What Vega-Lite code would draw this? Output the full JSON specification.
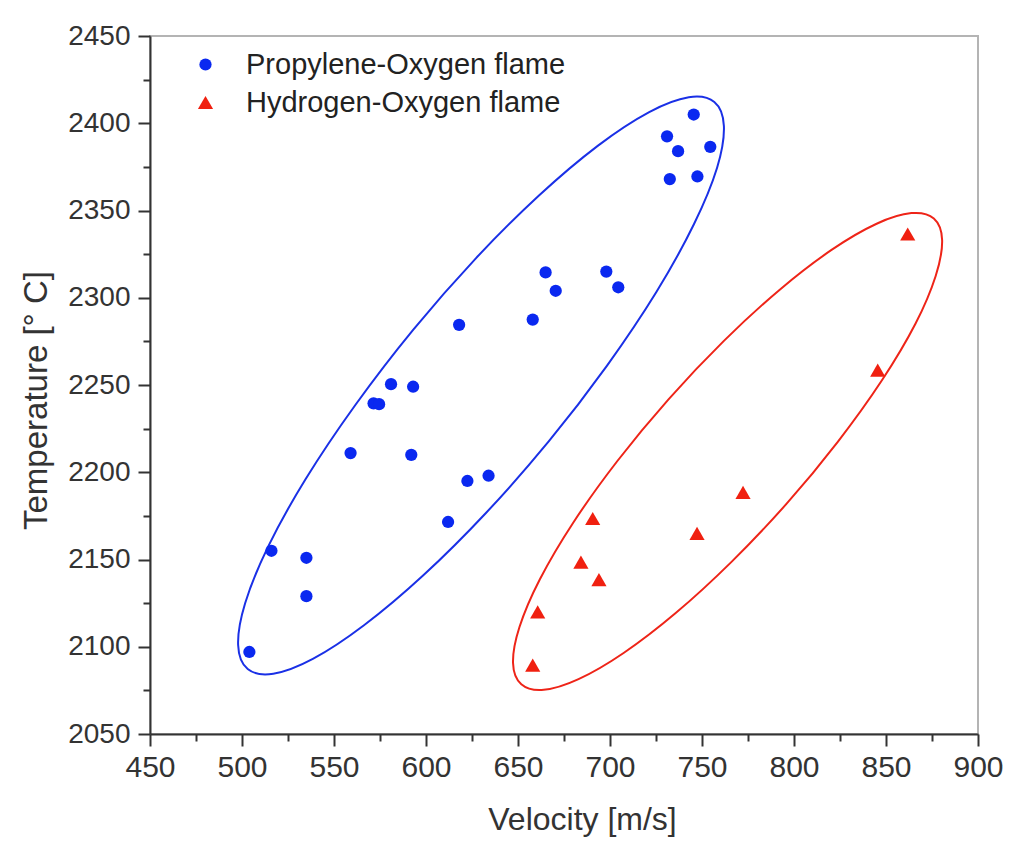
{
  "$schema": "https://vega.github.io/schema/vega-lite/v6.json",
  "width": 828,
  "height": 698,
  "autosize": "none",
  "padding": {"left": 150, "top": 36, "right": 46, "bottom": 115},
  "background": "white",
  "config": {
    "view": {"stroke": "#b4b4b4", "strokeWidth": 2},
    "font": "Liberation Sans"
  },
  "datasets": {
    "points": [
      {"v": 504, "t": 2097, "s": "Propylene-Oxygen flame"},
      {"v": 516, "t": 2155, "s": "Propylene-Oxygen flame"},
      {"v": 535, "t": 2151, "s": "Propylene-Oxygen flame"},
      {"v": 535, "t": 2129, "s": "Propylene-Oxygen flame"},
      {"v": 559, "t": 2211, "s": "Propylene-Oxygen flame"},
      {"v": 571.5, "t": 2239.5, "s": "Propylene-Oxygen flame"},
      {"v": 574.5, "t": 2239, "s": "Propylene-Oxygen flame"},
      {"v": 581, "t": 2250.5, "s": "Propylene-Oxygen flame"},
      {"v": 593, "t": 2249, "s": "Propylene-Oxygen flame"},
      {"v": 592, "t": 2210, "s": "Propylene-Oxygen flame"},
      {"v": 618, "t": 2284.5, "s": "Propylene-Oxygen flame"},
      {"v": 612, "t": 2171.5, "s": "Propylene-Oxygen flame"},
      {"v": 622.5, "t": 2195, "s": "Propylene-Oxygen flame"},
      {"v": 634, "t": 2198, "s": "Propylene-Oxygen flame"},
      {"v": 658, "t": 2287.5, "s": "Propylene-Oxygen flame"},
      {"v": 665, "t": 2314.5, "s": "Propylene-Oxygen flame"},
      {"v": 670.5, "t": 2304, "s": "Propylene-Oxygen flame"},
      {"v": 698, "t": 2315, "s": "Propylene-Oxygen flame"},
      {"v": 704.5, "t": 2306, "s": "Propylene-Oxygen flame"},
      {"v": 731, "t": 2392.5, "s": "Propylene-Oxygen flame"},
      {"v": 737, "t": 2384, "s": "Propylene-Oxygen flame"},
      {"v": 732.5, "t": 2368, "s": "Propylene-Oxygen flame"},
      {"v": 745.5, "t": 2405, "s": "Propylene-Oxygen flame"},
      {"v": 747.5, "t": 2369.5, "s": "Propylene-Oxygen flame"},
      {"v": 754.5, "t": 2386.5, "s": "Propylene-Oxygen flame"},
      {"v": 658, "t": 2089.5, "s": "Hydrogen-Oxygen flame"},
      {"v": 660.7, "t": 2120, "s": "Hydrogen-Oxygen flame"},
      {"v": 684.2, "t": 2148.5, "s": "Hydrogen-Oxygen flame"},
      {"v": 690.6, "t": 2173.5, "s": "Hydrogen-Oxygen flame"},
      {"v": 694, "t": 2138.5, "s": "Hydrogen-Oxygen flame"},
      {"v": 747.3, "t": 2165, "s": "Hydrogen-Oxygen flame"},
      {"v": 772.3, "t": 2188.5, "s": "Hydrogen-Oxygen flame"},
      {"v": 845.5, "t": 2258.5, "s": "Hydrogen-Oxygen flame"},
      {"v": 861.8, "t": 2336.5, "s": "Hydrogen-Oxygen flame"}
    ],
    "ellipses": [
      {"g": "blue", "i": 0, "v": 756.7, "t": 2412.2},
      {"g": "blue", "i": 1, "v": 742.8, "t": 2414.9},
      {"g": "blue", "i": 2, "v": 721.3, "t": 2406.4},
      {"g": "blue", "i": 3, "v": 693.5, "t": 2387.2},
      {"g": "blue", "i": 4, "v": 661.4, "t": 2358.6},
      {"g": "blue", "i": 5, "v": 627.1, "t": 2322.6},
      {"g": "blue", "i": 6, "v": 593.0, "t": 2281.6},
      {"g": "blue", "i": 7, "v": 561.5, "t": 2238.4},
      {"g": "blue", "i": 8, "v": 534.6, "t": 2196.1},
      {"g": "blue", "i": 9, "v": 514.2, "t": 2157.4},
      {"g": "blue", "i": 10, "v": 501.7, "t": 2124.9},
      {"g": "blue", "i": 11, "v": 497.9, "t": 2101.0},
      {"g": "blue", "i": 12, "v": 503.1, "t": 2087.2},
      {"g": "blue", "i": 13, "v": 517.0, "t": 2084.5},
      {"g": "blue", "i": 14, "v": 538.5, "t": 2093.0},
      {"g": "blue", "i": 15, "v": 566.3, "t": 2112.3},
      {"g": "blue", "i": 16, "v": 598.4, "t": 2140.8},
      {"g": "blue", "i": 17, "v": 632.7, "t": 2176.8},
      {"g": "blue", "i": 18, "v": 666.8, "t": 2217.8},
      {"g": "blue", "i": 19, "v": 698.3, "t": 2261.0},
      {"g": "blue", "i": 20, "v": 725.2, "t": 2303.3},
      {"g": "blue", "i": 21, "v": 745.6, "t": 2342.1},
      {"g": "blue", "i": 22, "v": 758.2, "t": 2374.5},
      {"g": "blue", "i": 23, "v": 761.9, "t": 2398.4},
      {"g": "red", "i": 0, "v": 876.0, "t": 2345.4},
      {"g": "red", "i": 1, "v": 863.8, "t": 2348.5},
      {"g": "red", "i": 2, "v": 844.9, "t": 2342.4},
      {"g": "red", "i": 3, "v": 820.4, "t": 2327.4},
      {"g": "red", "i": 4, "v": 792.1, "t": 2304.5},
      {"g": "red", "i": 5, "v": 761.9, "t": 2275.3},
      {"g": "red", "i": 6, "v": 731.8, "t": 2241.8},
      {"g": "red", "i": 7, "v": 703.9, "t": 2206.3},
      {"g": "red", "i": 8, "v": 680.0, "t": 2171.1},
      {"g": "red", "i": 9, "v": 661.9, "t": 2138.7},
      {"g": "red", "i": 10, "v": 650.8, "t": 2111.3},
      {"g": "red", "i": 11, "v": 647.3, "t": 2090.7},
      {"g": "red", "i": 12, "v": 651.8, "t": 2078.5},
      {"g": "red", "i": 13, "v": 664.0, "t": 2075.3},
      {"g": "red", "i": 14, "v": 682.9, "t": 2081.4},
      {"g": "red", "i": 15, "v": 707.4, "t": 2096.4},
      {"g": "red", "i": 16, "v": 735.7, "t": 2119.3},
      {"g": "red", "i": 17, "v": 765.9, "t": 2148.5},
      {"g": "red", "i": 18, "v": 796.0, "t": 2182.0},
      {"g": "red", "i": 19, "v": 823.9, "t": 2217.6},
      {"g": "red", "i": 20, "v": 847.8, "t": 2252.7},
      {"g": "red", "i": 21, "v": 866.0, "t": 2285.1},
      {"g": "red", "i": 22, "v": 877.0, "t": 2312.5},
      {"g": "red", "i": 23, "v": 880.5, "t": 2333.1}
    ]
  },
  "layer": [
    {
      "data": {"name": "ellipses"},
      "mark": {"type": "line", "interpolate": "cardinal-closed", "strokeWidth": 2},
      "encoding": {
        "x": {
          "field": "v", "type": "quantitative",
          "scale": {"domain": [450, 900], "nice": false, "zero": false},
          "axis": {"orient": "bottom", "values": [475, 525, 575, 625, 675, 725, 775, 825, 875], "tickSize": 7, "tickWidth": 2, "tickColor": "#333333", "domain": false, "labels": false, "title": null, "grid": false}
        },
        "y": {
          "field": "t", "type": "quantitative",
          "scale": {"domain": [2050, 2450], "nice": false, "zero": false},
          "axis": {"orient": "left", "values": [2075, 2125, 2175, 2225, 2275, 2325, 2375, 2425], "tickSize": 7, "tickWidth": 2, "tickColor": "#333333", "domain": false, "labels": false, "title": null, "grid": false}
        },
        "stroke": {"field": "g", "type": "nominal", "scale": {"domain": ["blue", "red"], "range": ["#1a30e6", "#ee2418"]}, "legend": null},
        "order": {"field": "i", "type": "quantitative"}
      }
    },
    {
      "data": {"name": "points"},
      "mark": {"type": "point", "filled": true, "opacity": 1},
      "encoding": {
        "x": {
          "field": "v", "type": "quantitative",
          "scale": {"domain": [450, 900], "nice": false, "zero": false},
          "axis": {"orient": "bottom", "values": [450, 500, 550, 600, 650, 700, 750, 800, 850, 900], "tickSize": 12, "tickWidth": 2, "tickColor": "#333333", "domainColor": "#333333", "domainWidth": 2, "labelFontSize": 30, "labelColor": "#333333", "labelPadding": 6, "labelFlush": false, "labelOverlap": false, "title": "Velocity [m/s]", "titleFontSize": 32, "titleFontWeight": "normal", "titleColor": "#333333", "titlePadding": 22, "titleX": 432, "grid": false}
        },
        "y": {
          "field": "t", "type": "quantitative",
          "scale": {"domain": [2050, 2450], "nice": false, "zero": false},
          "axis": {"orient": "left", "values": [2050, 2100, 2150, 2200, 2250, 2300, 2350, 2400, 2450], "format": "d", "tickSize": 12, "tickWidth": 2, "tickColor": "#333333", "domainColor": "#333333", "domainWidth": 2, "labelFontSize": 28, "labelColor": "#333333", "labelPadding": 8, "labelFlush": false, "labelOverlap": false, "title": "Temperature [° C]", "titleFontSize": 33, "titleFontWeight": "normal", "titleColor": "#333333", "titlePadding": 14, "titleY": 364, "grid": false}
        },
        "size": {
          "field": "s", "type": "nominal",
          "scale": {"domain": ["Propylene-Oxygen flame", "Hydrogen-Oxygen flame"], "range": [150, 230]},
          "legend": null
        },
        "color": {
          "field": "s", "type": "nominal",
          "scale": {"domain": ["Propylene-Oxygen flame", "Hydrogen-Oxygen flame"], "range": ["#0a28f0", "#f02010"]},
          "legend": {"title": null, "orient": "none", "legendX": 41, "legendY": 14, "padding": 0, "labelFontSize": 29, "labelLimit": 0, "labelColor": "#222222", "labelOffset": 26, "symbolSize": 200, "rowPadding": 8, "symbolStrokeWidth": 0}
        },
        "shape": {
          "field": "s", "type": "nominal",
          "scale": {"domain": ["Propylene-Oxygen flame", "Hydrogen-Oxygen flame"], "range": ["circle", "triangle-up"]},
          "legend": {"title": null, "orient": "none", "legendX": 41, "legendY": 14, "padding": 0, "labelFontSize": 29, "labelLimit": 0, "labelColor": "#222222", "labelOffset": 26, "symbolSize": 200, "rowPadding": 8, "symbolStrokeWidth": 0}
        }
      }
    }
  ],
  "resolve": {"axis": {"x": "independent", "y": "independent"}}
}
